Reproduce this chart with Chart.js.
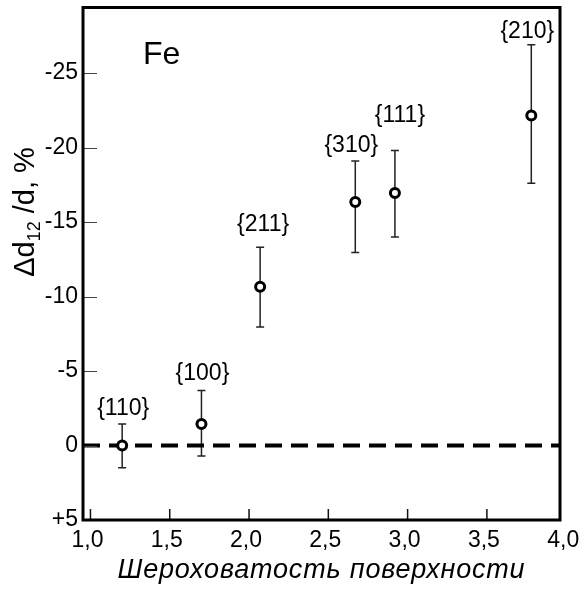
<!DOCTYPE html>
<html>
<head>
<meta charset="utf-8">
<script src="https://cdn.jsdelivr.net/npm/chart.js@4"></script>
<style>
  html, body { margin: 0; padding: 0; background: #fff; }
  #wrap { width: 580px; height: 589px; }
</style>
</head>
<body>
<div id="wrap"><canvas id="feChart"></canvas></div>
<script>
// data
const faces = ['{110}', '{100}', '{211}', '{310}', '{111}', '{210}'];
const roughness = [1.20, 1.70, 2.07, 2.67, 2.92, 3.78];
const deltaD = [0.0, -1.45, -10.65, -16.35, -16.95, -22.15];
const errUpper = [-1.45, -3.7, -13.3, -19.1, -19.8, -26.9];
const errLower = [1.5, 0.7, -7.95, -12.95, -14.0, -17.6];
const xTicks = [1.0, 1.5, 2.0, 2.5, 3.0, 3.5, 4.0];
const yTicks = [-25, -20, -15, -10, -5, 0, 5];
const xTitle = 'Шероховатость поверхности';

const xMin = 0.953, xMax = 3.961;
const yMin = -29.4, yMax = 5;
const FONT = '"Liberation Sans", Arial, sans-serif';

// label nudges (px): lift above the error bar top, horizontal shift
const labelLift = [8, 9, 15, 8, 27, 6];
const labelShift = [1, 1, 3, -4, 5, -4];

const noPad = s => {
  s.paddingLeft = 0; s.paddingRight = 0;
  s.paddingTop = 0; s.paddingBottom = 0;
};

const decor = {
  id: 'decor',
  beforeDatasetsDraw(chart) {
    const { ctx, scales: { x, y } } = chart;
    ctx.save();
    ctx.strokeStyle = '#222';
    ctx.lineWidth = 1.5;
    roughness.forEach((v, i) => {
      const px = x.getPixelForValue(v);
      const p1 = y.getPixelForValue(errUpper[i]);
      const p2 = y.getPixelForValue(errLower[i]);
      ctx.beginPath();
      ctx.moveTo(px, p1); ctx.lineTo(px, p2);
      ctx.moveTo(px - 4, p1); ctx.lineTo(px + 4, p1);
      ctx.moveTo(px - 4, p2); ctx.lineTo(px + 4, p2);
      ctx.stroke();
    });
    ctx.restore();
  },
  afterDraw(chart) {
    const { ctx, chartArea: a, scales: { x, y } } = chart;
    ctx.save();
    // inward ticks
    ctx.strokeStyle = '#444';
    ctx.lineWidth = 1;
    yTicks.forEach(v => {
      const py = Math.round(y.getPixelForValue(v)) + 0.5;
      if (py > a.bottom - 2) return;
      ctx.beginPath(); ctx.moveTo(a.left, py); ctx.lineTo(a.left + 14, py); ctx.stroke();
    });
    ctx.strokeStyle = '#111';
    ctx.lineWidth = 1.5;
    xTicks.forEach(v => {
      const px = x.getPixelForValue(v);
      if (px < a.left + 2 || px > a.right - 2) return;
      ctx.beginPath(); ctx.moveTo(px, a.bottom); ctx.lineTo(px, a.bottom - 11); ctx.stroke();
    });
    // frame
    ctx.strokeStyle = '#000';
    ctx.lineWidth = 3;
    ctx.strokeRect(a.left, a.top, a.right - a.left, a.bottom - a.top);

    // face labels
    ctx.fillStyle = '#000';
    ctx.font = '23px ' + FONT;
    ctx.textAlign = 'center';
    ctx.textBaseline = 'bottom';
    faces.forEach((f, i) => {
      const px = x.getPixelForValue(roughness[i]) + labelShift[i];
      const py = y.getPixelForValue(errUpper[i]) - labelLift[i] + 4;
      ctx.fillText(f, px, py);
    });

    // element label
    ctx.font = '32px ' + FONT;
    ctx.textAlign = 'left';
    ctx.textBaseline = 'alphabetic';
    ctx.fillText('Fe', a.left + 60, a.top + 56);

    // x axis title (slightly letter-spaced like the original)
    ctx.save();
    ctx.font = 'italic 27px ' + FONT;
    ctx.letterSpacing = '0.8px';
    ctx.textAlign = 'center';
    ctx.fillText(xTitle, (a.left + a.right) / 2, 578);
    ctx.restore();

    // y axis title with subscript
    ctx.translate(34, 212);
    ctx.rotate(-Math.PI / 2);
    const big = '29px ' + FONT, small = '18px ' + FONT;
    const parts = [['\u0394d', big, 0], ['12', small, 6], [' /d, %', big, 0]];
    let total = 0;
    parts.forEach(p => { ctx.font = p[1]; total += ctx.measureText(p[0]).width; });
    let cx = -total / 2;
    parts.forEach(p => {
      ctx.font = p[1];
      ctx.fillText(p[0], cx, p[2]);
      cx += ctx.measureText(p[0]).width;
    });
    ctx.restore();
  }
};

new Chart(document.getElementById('feChart'), {
  type: 'scatter',
  data: {
    datasets: [
      {
        label: 'Fe',
        data: roughness.map((v, i) => ({ x: v, y: deltaD[i] })),
        pointRadius: 4.5,
        pointBorderWidth: 3,
        pointBackgroundColor: '#fff',
        pointBorderColor: '#000',
        order: 0
      },
      {
        label: 'zero',
        type: 'line',
        data: [{ x: xMin, y: 0 }, { x: xMax, y: 0 }],
        borderColor: '#000',
        borderWidth: 4,
        borderDash: [17, 9],
        pointRadius: 0,
        order: 1
      }
    ]
  },
  options: {
    responsive: true,
    maintainAspectRatio: false,
    animation: false,
    events: [],
    layout: { padding: { top: 5, right: 20, left: 0, bottom: 0 } },
    plugins: { legend: { display: false }, tooltip: { enabled: false } },
    scales: {
      x: {
        type: 'linear',
        min: xMin,
        max: xMax,
        grid: { display: false, drawTicks: false },
        border: { display: false },
        afterBuildTicks: s => { s.ticks = xTicks.map(v => ({ value: v })); },
        afterFit: s => { s.height = 69; noPad(s); },
        ticks: {
          padding: 7,
          labelOffset: -3,
          color: '#000',
          font: { family: FONT, size: 23 },
          maxRotation: 0,
          autoSkip: false,
          callback: v => v.toFixed(1).replace('.', ',')
        }
      },
      y: {
        type: 'linear',
        reverse: true,
        min: yMin,
        max: yMax,
        grid: { display: false, drawTicks: false },
        border: { display: false },
        afterBuildTicks: s => { s.ticks = yTicks.map(v => ({ value: v })); },
        afterFit: s => { s.width = 83; noPad(s); },
        ticks: {
          padding: 5,
          color: '#000',
          font: { family: FONT, size: 23 },
          autoSkip: false,
          callback: v => (v > 0 ? '+' + v : String(v))
        }
      }
    }
  },
  plugins: [decor]
});
</script>
</body>
</html>
